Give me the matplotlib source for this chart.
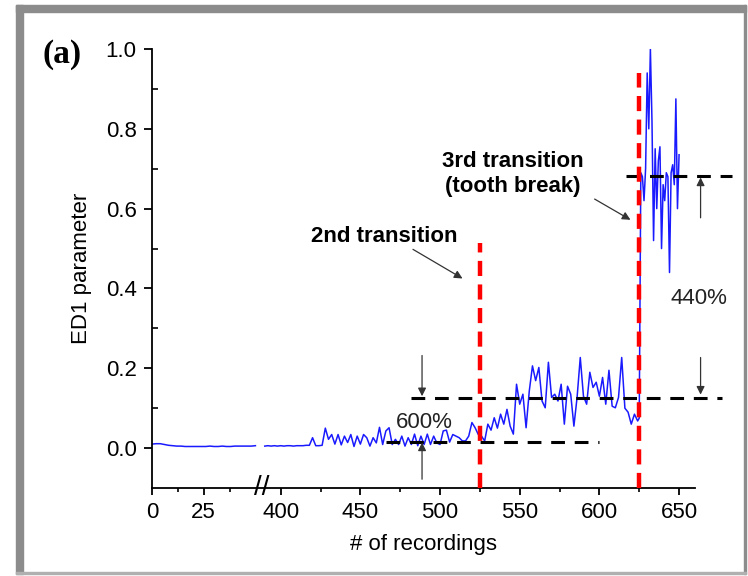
import numpy as np
import matplotlib.pyplot as plt
from matplotlib.patches import Rectangle

plt.rcParams['font.family'] = ['Liberation Sans', 'DejaVu Sans']

# ---- data ----
# first recordings (0-50)
early_x = np.arange(0, 51, 2)
early_y = [0.010, 0.011, 0.011, 0.009, 0.007, 0.006, 0.005, 0.005, 0.004, 0.004,
           0.004, 0.004, 0.004, 0.004, 0.005, 0.004, 0.004, 0.005, 0.004, 0.004,
           0.005, 0.005, 0.005, 0.005, 0.005, 0.006]

# recordings 390-524
mid_x = np.arange(390, 525, 2)
mid_y = [0.005, 0.006, 0.005, 0.006, 0.005, 0.006, 0.005, 0.006, 0.006, 0.005,
         0.006, 0.006, 0.006, 0.007, 0.007, 0.026, 0.006, 0.006, 0.007,
         0.050, 0.022, 0.034, 0.010, 0.034, 0.008, 0.030, 0.014, 0.034, 0.004,
         0.030, 0.010, 0.034, 0.026, 0.005, 0.026, 0.013, 0.052, 0.009, 0.043,
         0.051, 0.009, 0.022, 0.009, 0.030, 0.005, 0.026, 0.009, 0.035, 0.006,
         0.030, 0.009, 0.035, 0.009, 0.030, 0.013, 0.009, 0.043, 0.045, 0.015,
         0.034, 0.030, 0.026, 0.018, 0.018, 0.030, 0.064, 0.051, 0.034]

# recordings 526-624 (after 2nd transition)
late_x = np.arange(526, 625, 2)
late_y = [0.030, 0.018, 0.060, 0.045, 0.076, 0.050, 0.085, 0.060, 0.097, 0.055,
          0.035, 0.160, 0.110, 0.135, 0.051, 0.143, 0.206, 0.169, 0.202, 0.118,
          0.101, 0.215, 0.127, 0.135, 0.118, 0.160, 0.060, 0.155, 0.135, 0.055,
          0.127, 0.227, 0.130, 0.110, 0.190, 0.152, 0.165, 0.130, 0.177, 0.110,
          0.195, 0.105, 0.101, 0.127, 0.227, 0.100, 0.090, 0.060, 0.085, 0.068]

# recordings 625-650 (tooth break)
break_x = np.arange(625, 651)
break_y = [0.075, 0.69, 0.68, 0.62, 0.70, 0.94, 0.80, 1.00, 0.82, 0.52,
           0.75, 0.60, 0.72, 0.755, 0.50, 0.66, 0.62, 0.69, 0.68, 0.44,
           0.69, 0.71, 0.66, 0.875, 0.60, 0.735]

xticks = [0, 25, 400, 450, 500, 550, 600, 650]
xticklabels = ['0', '25', '400', '450', '500', '550', '600', '650']
xminor = [12.5, 37.5, 425, 475, 525, 575, 625]
yticks = [0.0, 0.2, 0.4, 0.6, 0.8, 1.0]
yticklabels = ['0.0', '0.2', '0.4', '0.6', '0.8', '1.0']

transitions = [525, 625]
transition_tops = [0.514, 0.94]

# broken x axis: 0-52 and 390-660 on different scales
KX = [-100.0, 52.0, 390.0, 1000.0]
KP = [-206.0, 107.1, 112.3, 128.2 + 1.587 * 600]


def fwd(x):
    return np.interp(x, KX, KP)


def inv(p):
    return np.interp(p, KP, KX)


W, H = 748, 576
fig = plt.figure(figsize=(W / 100, H / 100), dpi=100)
ax = fig.add_axes([152 / W, 1 - 488 / H, (695 - 152) / W, (488 - 49) / H])
ax.set_xscale('function', functions=(fwd, inv))
ax.set_xlim(0, 660)
ax.set_ylim(-0.1, 1.0)

# series
ax.plot(early_x, early_y, color='#1a1aff', lw=1.1, zorder=2)
right_x = np.concatenate([mid_x, late_x, break_x])
right_y = np.concatenate([mid_y, late_y, break_y])
ax.plot(right_x, right_y, color='#1a1aff', lw=1.1, zorder=2)

# reference levels
dash_kw = dict(color='black', lw=2.2, dashes=(4.5, 3.2), clip_on=False, zorder=3)
ax.plot([466, 600], [0.016, 0.016], **dash_kw)
ax.plot([482, 677], [0.126, 0.126], **dash_kw)
ax.plot([617, 683], [0.683, 0.683], **dash_kw)

# transitions
for xt, top in zip(transitions, transition_tops):
    ax.plot([xt, xt], [-0.1, top], color='#ff0000', lw=3.2, dashes=(3.4, 1.9),
            clip_on=False, zorder=4)

arrow_kw = dict(arrowstyle='-|>', color='#333333', lw=0.9, mutation_scale=12,
                shrinkA=0, shrinkB=0)
# 600% arrows
ax.annotate('', xy=(488.7, 0.130), xytext=(488.7, 0.232), arrowprops=arrow_kw)
ax.annotate('', xy=(488.7, 0.014), xytext=(488.7, -0.078), arrowprops=arrow_kw)
ax.text(490.4, 0.064, '600%', ha='center', va='center', fontsize=16, color='#222222')
# 440% arrows
ax.annotate('', xy=(663.5, 0.678), xytext=(663.5, 0.577), arrowprops=arrow_kw,
            annotation_clip=False)
ax.annotate('', xy=(663.5, 0.134), xytext=(663.5, 0.227), arrowprops=arrow_kw,
            annotation_clip=False)
ax.text(662.4, 0.374, '440%', ha='center', va='center', fontsize=16,
        color='#222222', clip_on=False)

# transition labels
ax.text(465.2, 0.531, '2nd transition', ha='center', va='center', fontsize=16,
        fontweight='bold')
ax.annotate('', xy=(514.1, 0.425), xytext=(483, 0.498), arrowprops=arrow_kw)
ax.text(545.4, 0.688, '3rd transition\n(tooth break)', ha='center', va='center',
        multialignment='center', fontsize=16, fontweight='bold', linespacing=1.25)
ax.annotate('', xy=(619.5, 0.572), xytext=(597, 0.624), arrowprops=arrow_kw)

# axis break marks
ax.text(215, 0.0, '//', transform=ax.get_xaxis_transform(), ha='center',
        va='center', fontsize=20, clip_on=False)

# axes styling
for side in ('top', 'right'):
    ax.spines[side].set_visible(False)
for side in ('left', 'bottom'):
    ax.spines[side].set_linewidth(1.3)

ax.set_xticks(xticks)
ax.set_xticklabels(xticklabels)
ax.set_xticks(xminor, minor=True)
ax.set_yticks(yticks)
ax.set_yticklabels(yticklabels)
ax.set_yticks([0.1, 0.3, 0.5, 0.7, 0.9], minor=True)
ax.tick_params(axis='both', which='major', labelsize=16, width=1.3, pad=5)
ax.tick_params(axis='x', which='major', direction='out', length=5)
ax.tick_params(axis='x', which='minor', direction='out', length=3, width=1.2)
ax.tick_params(axis='y', which='major', direction='out', length=6)
ax.tick_params(axis='y', which='minor', direction='in', length=4, width=1.2)

ax.set_xlabel('# of recordings', fontsize=16, labelpad=8)
ax.set_ylabel('ED1 parameter', fontsize=16, labelpad=10)

fig.text(62.5 / W, 1 - 54 / H, '(a)', ha='center', va='center', fontsize=24,
         fontweight='bold', family=['Liberation Serif', 'DejaVu Serif'])

# panel frame
gray = '#8c8c8c'
fig.patches.extend([
    Rectangle((16 / W, 1 - 12 / H), (746 - 16) / W, 7 / H, transform=fig.transFigure,
              color=gray, zorder=0),
    Rectangle((16 / W, 1 - 574 / H), 7 / W, (574 - 5) / H, transform=fig.transFigure,
              color=gray, zorder=0),
    Rectangle((744 / W, 1 - 574 / H), 2 / W, (574 - 5) / H, transform=fig.transFigure,
              color=gray, zorder=0),
    Rectangle((16 / W, 1 - 574 / H), (746 - 16) / W, 2 / H, transform=fig.transFigure,
              color='#b0b0b0', zorder=0),
])

fig.savefig('out.png', dpi=100)
